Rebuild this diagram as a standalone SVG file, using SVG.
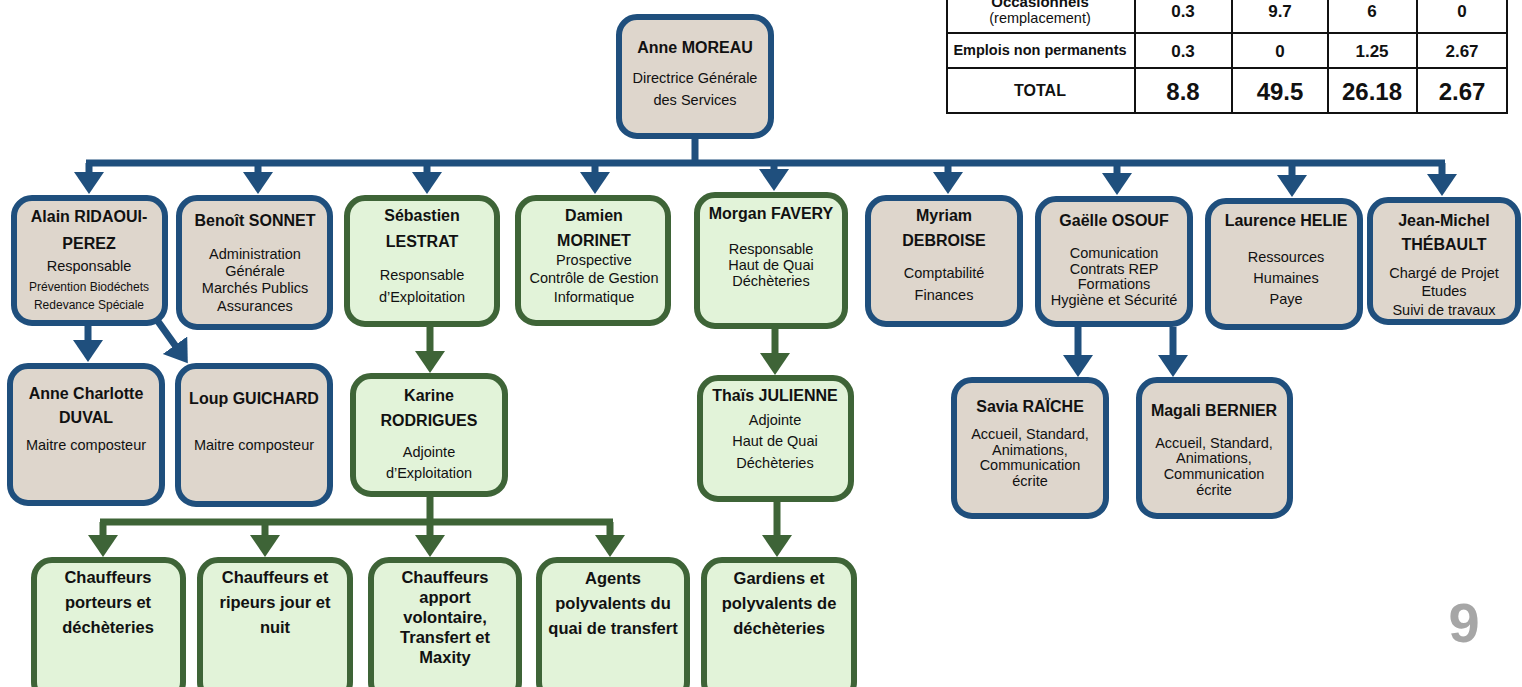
<svg xmlns="http://www.w3.org/2000/svg" width="1522" height="687" viewBox="0 0 1522 687">
<style>
text{font-family:"Liberation Sans",Arial,sans-serif;fill:#111;text-anchor:middle}
.nm{font-weight:bold;font-size:16px}
.bd{font-size:14.5px}
.sm{font-size:12px}
.bt{font-weight:bold;font-size:16.5px}
.bb rect{fill:#ded6cc;stroke:#1f4f7d;stroke-width:6}
.gb rect{fill:#e2f3d9;stroke:#3e6437;stroke-width:6}
.cb{stroke:#1f4f7d;stroke-width:7;fill:none}
.cg{stroke:#3e6437;stroke-width:7;fill:none}
.cb line{marker-end:url(#ab)}
.cg line{marker-end:url(#ag)}
.tb{stroke:#111;stroke-width:2;fill:none}
.tn{font-weight:bold;font-size:17px}
.tt{font-weight:bold;font-size:24px}
</style>
<defs>
<marker id="ab" markerUnits="userSpaceOnUse" markerWidth="24" markerHeight="32" refX="12" refY="15" orient="auto" viewBox="0 0 24 32"><path d="M0,0 L22,15 L0,30 z" fill="#1f4f7d"/></marker>
<marker id="ag" markerUnits="userSpaceOnUse" markerWidth="24" markerHeight="32" refX="12" refY="15" orient="auto" viewBox="0 0 24 32"><path d="M0,0 L22,15 L0,30 z" fill="#3e6437"/></marker>
</defs>
<rect width="1522" height="687" fill="#fff"/>

<!-- table -->
<g id="table">
<rect class="tb" x="947" y="-10" width="560" height="123"/>
<line class="tb" x1="947" y1="33" x2="1507" y2="33"/>
<line class="tb" x1="947" y1="68" x2="1507" y2="68"/>
<line class="tb" x1="1135" y1="-10" x2="1135" y2="113"/>
<line class="tb" x1="1232" y1="-10" x2="1232" y2="113"/>
<line class="tb" x1="1328" y1="-10" x2="1328" y2="113"/>
<line class="tb" x1="1417" y1="-10" x2="1417" y2="113"/>
<text class="tn" x="1040" y="7" style="font-size:15px">Occasionnels</text>
<text class="bd" x="1040" y="23">(remplacement)</text>
<text class="tn" x="1183" y="17">0.3</text>
<text class="tn" x="1280" y="17">9.7</text>
<text class="tn" x="1372" y="17">6</text>
<text class="tn" x="1462" y="17">0</text>
<text class="tn" x="1040" y="55" style="font-size:14.5px">Emplois non permanents</text>
<text class="tn" x="1183" y="57">0.3</text>
<text class="tn" x="1280" y="57">0</text>
<text class="tn" x="1372" y="57">1.25</text>
<text class="tn" x="1462" y="57">2.67</text>
<text class="tn" x="1040" y="96" style="font-size:16px">TOTAL</text>
<text class="tt" x="1183" y="100">8.8</text>
<text class="tt" x="1280" y="100">49.5</text>
<text class="tt" x="1372" y="100">26.18</text>
<text class="tt" x="1462" y="100">2.67</text>
</g>

<!-- connectors -->
<g id="connectors">
<g class="cb">
<path d="M695,139 V163 M86,163 H1445"/>
<line x1="89" y1="163" x2="89" y2="184"/>
<line x1="258" y1="163" x2="258" y2="184"/>
<line x1="427" y1="163" x2="427" y2="184"/>
<line x1="595" y1="163" x2="595" y2="184"/>
<line x1="774" y1="163" x2="774" y2="181"/>
<line x1="948" y1="163" x2="948" y2="184"/>
<line x1="1117" y1="163" x2="1117" y2="185"/>
<line x1="1292" y1="163" x2="1292" y2="187"/>
<line x1="1442" y1="163" x2="1442" y2="186"/>
<line x1="88" y1="326" x2="88" y2="352"/>
<line x1="157" y1="320" x2="182" y2="355"/>
<line x1="1078" y1="327" x2="1078" y2="367"/>
<line x1="1173" y1="327" x2="1173" y2="367"/>
</g>
<g class="cg">
<line x1="430" y1="327" x2="430" y2="363"/>
<line x1="775" y1="329" x2="775" y2="365"/>
<path d="M430,497 V522 M100,522 H613"/>
<line x1="103" y1="522" x2="103" y2="547"/>
<line x1="265" y1="522" x2="265" y2="547"/>
<line x1="430" y1="522" x2="430" y2="547"/>
<line x1="610" y1="522" x2="610" y2="547"/>
<line x1="777" y1="502" x2="777" y2="547"/>
</g>
</g>

<!-- nodes -->
<g id="n-moreau" class="bb"><rect x="619" y="17" width="152" height="119" rx="18"/>
<text class="nm" x="695" y="53">Anne MOREAU</text>
<text class="bd" x="695" y="83">Directrice Générale</text>
<text class="bd" x="695" y="105">des Services</text></g>

<g id="n-alain" class="bb"><rect x="14" y="198" width="151" height="125" rx="18"/>
<text class="nm" x="89" y="222">Alain RIDAOUI-</text>
<text class="nm" x="89" y="249">PEREZ</text>
<text class="bd" x="89" y="271">Responsable</text>
<text class="sm" x="89" y="291">Prévention Biodéchets</text>
<text class="sm" x="89" y="309">Redevance Spéciale</text></g>

<g id="n-benoit" class="bb"><rect x="179" y="198" width="151" height="129" rx="18"/>
<text class="nm" x="255" y="226">Benoît SONNET</text>
<text class="bd" x="255" y="259">Administration</text>
<text class="bd" x="255" y="276">Générale</text>
<text class="bd" x="255" y="293">Marchés Publics</text>
<text class="bd" x="255" y="311">Assurances</text></g>

<g id="n-sebastien" class="gb"><rect x="347" y="198" width="150" height="126" rx="18"/>
<text class="nm" x="422" y="221">Sébastien</text>
<text class="nm" x="422" y="247">LESTRAT</text>
<text class="bd" x="422" y="280">Responsable</text>
<text class="bd" x="422" y="302">d’Exploitation</text></g>

<g id="n-damien" class="gb"><rect x="518" y="198" width="150" height="125" rx="18"/>
<text class="nm" x="594" y="221">Damien</text>
<text class="nm" x="594" y="246">MORINET</text>
<text class="bd" x="594" y="265">Prospective</text>
<text class="bd" x="594" y="283">Contrôle de Gestion</text>
<text class="bd" x="594" y="302">Informatique</text></g>

<g id="n-morgan" class="gb"><rect x="697" y="195" width="148" height="131" rx="18"/>
<text class="nm" x="771" y="219">Morgan FAVERY</text>
<text class="bd" x="771" y="254">Responsable</text>
<text class="bd" x="771" y="270">Haut de Quai</text>
<text class="bd" x="771" y="286">Déchèteries</text></g>

<g id="n-myriam" class="bb"><rect x="868" y="198" width="152" height="126" rx="18"/>
<text class="nm" x="944" y="221">Myriam</text>
<text class="nm" x="944" y="246">DEBROISE</text>
<text class="bd" x="944" y="278">Comptabilité</text>
<text class="bd" x="944" y="300">Finances</text></g>

<g id="n-gaelle" class="bb"><rect x="1038" y="199" width="152" height="125" rx="18"/>
<text class="nm" x="1114" y="226">Gaëlle OSOUF</text>
<text class="bd" x="1114" y="258">Comunication</text>
<text class="bd" x="1114" y="274">Contrats REP</text>
<text class="bd" x="1114" y="289">Formations</text>
<text class="bd" x="1114" y="305">Hygiène et Sécurité</text></g>

<g id="n-laurence" class="bb"><rect x="1208" y="201" width="152" height="126" rx="18"/>
<text class="nm" x="1286" y="226">Laurence HELIE</text>
<text class="bd" x="1286" y="262">Ressources</text>
<text class="bd" x="1286" y="283">Humaines</text>
<text class="bd" x="1286" y="304">Paye</text></g>

<g id="n-jeanmichel" class="bb"><rect x="1370" y="200" width="148" height="122" rx="18"/>
<text class="nm" x="1444" y="226">Jean-Michel</text>
<text class="nm" x="1444" y="250">THÉBAULT</text>
<text class="bd" x="1444" y="278">Chargé de Projet</text>
<text class="bd" x="1444" y="296">Etudes</text>
<text class="bd" x="1444" y="315">Suivi de travaux</text></g>

<g id="n-annecharlotte" class="bb"><rect x="10" y="366" width="152" height="137" rx="18"/>
<text class="nm" x="86" y="399">Anne Charlotte</text>
<text class="nm" x="86" y="423">DUVAL</text>
<text class="bd" x="86" y="450">Maitre composteur</text></g>

<g id="n-loup" class="bb"><rect x="178" y="366" width="152" height="138" rx="18"/>
<text class="nm" x="254" y="404">Loup GUICHARD</text>
<text class="bd" x="254" y="450">Maitre composteur</text></g>

<g id="n-karine" class="gb"><rect x="353" y="376" width="152" height="118" rx="18"/>
<text class="nm" x="429" y="401">Karine</text>
<text class="nm" x="429" y="426">RODRIGUES</text>
<text class="bd" x="429" y="457">Adjointe</text>
<text class="bd" x="429" y="478">d’Exploitation</text></g>

<g id="n-thais" class="gb"><rect x="700" y="378" width="151" height="121" rx="18"/>
<text class="nm" x="775" y="401">Thaïs JULIENNE</text>
<text class="bd" x="775" y="425">Adjointe</text>
<text class="bd" x="775" y="446">Haut de Quai</text>
<text class="bd" x="775" y="468">Déchèteries</text></g>

<g id="n-savia" class="bb"><rect x="954" y="380" width="152" height="136" rx="18"/>
<text class="nm" x="1030" y="412">Savia RAÏCHE</text>
<text class="bd" x="1030" y="439">Accueil, Standard,</text>
<text class="bd" x="1030" y="455">Animations,</text>
<text class="bd" x="1030" y="470">Communication</text>
<text class="bd" x="1030" y="486">écrite</text></g>

<g id="n-magali" class="bb"><rect x="1139" y="380" width="151" height="136" rx="18"/>
<text class="nm" x="1214" y="416">Magali BERNIER</text>
<text class="bd" x="1214" y="448">Accueil, Standard,</text>
<text class="bd" x="1214" y="463">Animations,</text>
<text class="bd" x="1214" y="479">Communication</text>
<text class="bd" x="1214" y="495">écrite</text></g>

<g id="n-chauffeurs1" class="gb"><rect x="34" y="560" width="149" height="140" rx="18"/>
<text class="bt" x="108" y="583">Chauffeurs</text>
<text class="bt" x="108" y="608">porteurs et</text>
<text class="bt" x="108" y="633">déchèteries</text></g>

<g id="n-chauffeurs2" class="gb"><rect x="200" y="560" width="150" height="140" rx="18"/>
<text class="bt" x="275" y="583">Chauffeurs et</text>
<text class="bt" x="275" y="608">ripeurs jour et</text>
<text class="bt" x="275" y="633">nuit</text></g>

<g id="n-chauffeurs3" class="gb"><rect x="371" y="560" width="148" height="140" rx="18"/>
<text class="bt" x="445" y="583">Chauffeurs</text>
<text class="bt" x="445" y="603">apport</text>
<text class="bt" x="445" y="623">volontaire,</text>
<text class="bt" x="445" y="643">Transfert et</text>
<text class="bt" x="445" y="663">Maxity</text></g>

<g id="n-agents" class="gb"><rect x="539" y="560" width="148" height="140" rx="18"/>
<text class="bt" x="613" y="584">Agents</text>
<text class="bt" x="613" y="609">polyvalents du</text>
<text class="bt" x="613" y="634">quai de transfert</text></g>

<g id="n-gardiens" class="gb"><rect x="704" y="560" width="150" height="140" rx="18"/>
<text class="bt" x="779" y="584">Gardiens et</text>
<text class="bt" x="779" y="609">polyvalents de</text>
<text class="bt" x="779" y="634">déchèteries</text></g>

<text x="1464" y="642" style="font-weight:bold;font-size:56px;fill:#a6a6a6">9</text>
</svg>
